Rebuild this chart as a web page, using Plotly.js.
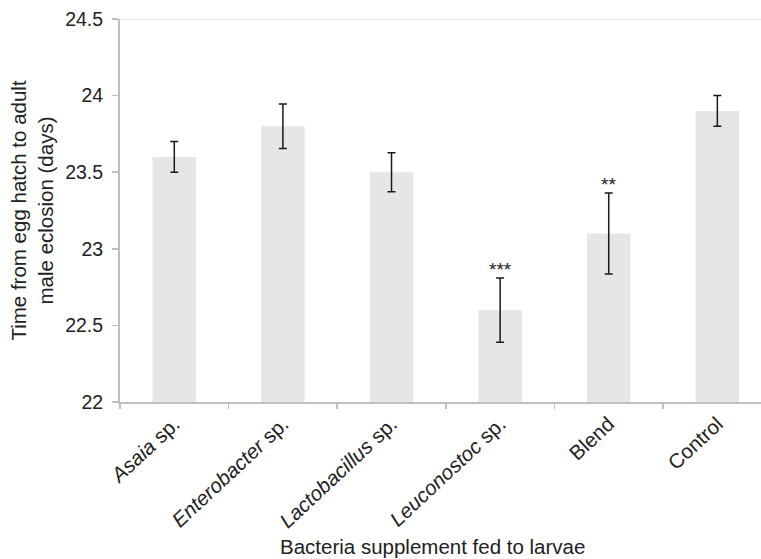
<!DOCTYPE html>
<html>
<head>
<meta charset="utf-8">
<script src="https://cdn.plot.ly/plotly-3.0.1.min.js"></script>
<style>html,body{margin:0;padding:0;background:#fff;}#chart{width:761px;height:559px;}</style>
</head>
<body>
<div id="chart"></div>
<script>
const categories = ["<i>Asaia</i> sp.", "<i>Enterobacter</i> sp.", "<i>Lactobacillus</i> sp.", "<i>Leuconostoc</i> sp.", "Blend", "Control"];
const meanDays = [23.6, 23.8, 23.5, 22.6, 23.1, 23.9];
const errDays = [0.10, 0.145, 0.127, 0.21, 0.265, 0.10];
const sigMarks = ["", "", "", "***", "**", ""];
const yTicks = [22, 22.5, 23, 23.5, 24, 24.5];
const yTickText = ["22", "22.5", "23", "23.5", "24", "24.5"];

const FONT = "Liberation Sans, Arial, Helvetica, sans-serif";

const trace = {
  type: "bar",
  x: categories,
  y: meanDays,
  width: 0.4,
  marker: {color: "#e6e6e6"},
  error_y: {type: "data", array: errDays, visible: true, color: "#1a1a1a", thickness: 1.5, width: 4},
  hoverinfo: "none"
};

const annotations = [];
categories.forEach((c, i) => {
  if (sigMarks[i]) {
    annotations.push({
      x: c, y: meanDays[i] + errDays[i], xref: "x", yref: "y",
      text: sigMarks[i], showarrow: false, yanchor: "bottom", yshift: -4,
      font: {family: FONT, size: 19, color: "#222"}
    });
  }
});
annotations.push({
  xref: "paper", yref: "paper", x: 0.488, y: -0.376, xanchor: "center", yanchor: "middle",
  text: "Bacteria supplement fed to larvae", showarrow: false,
  font: {family: FONT, size: 20.5, color: "#222"}
});

const layout = {
  width: 761, height: 559,
  margin: {l: 120, r: 0, t: 19, b: 157, pad: 0},
  paper_bgcolor: "#fff", plot_bgcolor: "#fff",
  font: {family: FONT, color: "#222"},
  showlegend: false,
  xaxis: {
    type: "category",
    range: [-0.5, 5.402],
    tickangle: -43,
    tickfont: {family: FONT, size: 20.5, color: "#222"},
    showline: true, linecolor: "#bfbfbf", linewidth: 2,
    ticks: "outside", tickson: "boundaries", ticklen: 5, tickcolor: "#bfbfbf", tickwidth: 1.5,
    showgrid: false, zeroline: false, fixedrange: true
  },
  yaxis: {
    range: [22, 24.5],
    tickvals: yTicks, ticktext: yTickText,
    tickfont: {family: FONT, size: 19.5, color: "#222"},
    showline: true, linecolor: "#bfbfbf", linewidth: 2,
    ticks: "outside", ticklen: 6, tickcolor: "#bfbfbf", tickwidth: 1.5,
    ticklabelstandoff: 5,
    showgrid: false, zeroline: false, fixedrange: true,
    title: {text: "Time from egg hatch to adult<br>male eclosion (days)", font: {family: FONT, size: 20.5, color: "#222"}, standoff: 6}
  },
  shapes: [{
    type: "line", xref: "paper", yref: "y", x0: 0, x1: 1, y0: 24.5, y1: 24.5,
    line: {color: "#e2e2e2", width: 1.5}, layer: "below"
  }],
  annotations: annotations
};

Plotly.newPlot("chart", [trace], layout, {staticPlot: true, displayModeBar: false});
</script>
</body>
</html>
